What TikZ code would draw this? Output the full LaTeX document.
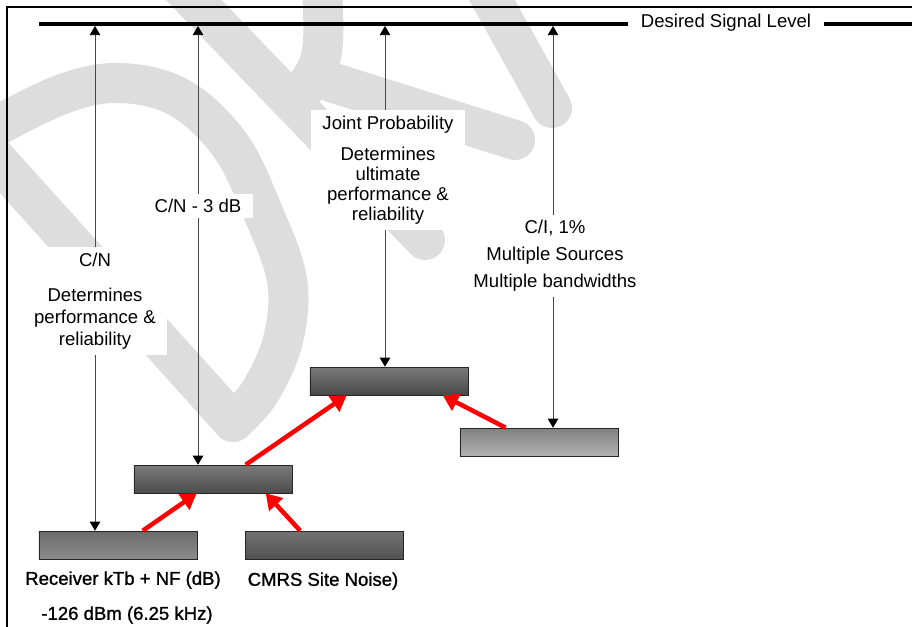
\documentclass[tikz,border=0pt]{standalone}
\usepackage{fontspec}
\setmainfont{Liberation Sans}
\newfontfamily\heavyfont[FakeBold=1.2]{Liberation Sans}
\usetikzlibrary{arrows.meta,calc}
\definecolor{watermark}{RGB}{221,221,221}
\definecolor{stemgray}{RGB}{70,70,70}

\tikzset{
  bar/.style={draw=black!85, thin, minimum width=3.95cm, minimum height=0.7cm, inner sep=0pt},
  levelarrow/.style={draw=stemgray, line width=0.6pt,
    {Triangle[width=7.5pt,length=6.5pt,color=black]}-{Triangle[width=7.5pt,length=6.5pt,color=black]}},
  feed/.style={draw=red, line width=3.2pt, -{Triangle[width=13pt,length=11pt]}},
  lbl/.style={fill=white, align=center, inner xsep=8pt, inner ysep=4pt, font=\fontsize{13.2}{15.6}\selectfont},
  caption/.style={inner sep=0pt, font=\heavyfont\fontsize{13.2}{15.6}\selectfont},
}

\begin{document}
\begin{tikzpicture}[x=0.025cm, y=-0.025cm]
    \useasboundingbox (0,0) rectangle (912,626);
    \clip (0,0) rectangle (912,626);

    % watermark behind everything
    \begin{scope}[draw=watermark, line width=1cm, line cap=round, line join=round]
        \draw (233,422) -- (-30,130);
        \draw plot[smooth, tension=0.6] coordinates {(-20,135) (60,95) (120,83) (180,98) (230,145) (262,210) (287,280) (283,340) (260,392) (233,422)};
        \draw (160,-35) -- (425,240);
        \draw (318,78) -- (515,140);
        \draw (478,-25) -- (552,108);
        \draw (300,95) .. controls (325,60) .. (322,-20);
    \end{scope}

    % frame and signal level
    \draw[line width=1.5pt] (7,660) -- (7,7) -- (940,7);
    \draw[line width=2.2pt] (39,24) -- (940,24);
    \node[lbl, inner xsep=9pt, inner ysep=2pt] (level) at (726,23) {Desired Signal Level};

    \coordinate (t1) at (95,26);
    \coordinate (t2) at (198,26);
    \coordinate (t3) at (385,26);
    \coordinate (t4) at (553,26);

    % noise bars
    \node[bar, top color=black!58, bottom color=black!45] (rx) at (118,545) {};
    \node[bar, top color=black!55, bottom color=black!68] (site) at (324.5,545) {};
    \node[bar, top color=black!52, bottom color=black!70] (combo) at (213,479) {};
    \node[bar, top color=black!52, bottom color=black!72] (joint) at (389,381) {};
    \node[bar, top color=black!50, bottom color=black!30] (interf) at (539,442) {};

    \draw[levelarrow] (rx.north -| t1) -- (t1);
    \draw[levelarrow] (combo.north -| t2) -- (t2);
    \draw[levelarrow] (joint.north -| t3) -- (t3);
    \draw[levelarrow] (interf.north -| t4) -- (t4);

    \node[lbl] (cn) at (95,301) {C/N\\[9pt]Determines\\performance \&\\reliability};
    \node[lbl] (cn3) at (198,206) {C/N - 3 dB};
    \node[lbl, font=\fontsize{13.2}{14.2}\selectfont] (jp) at (388,170) {Joint Probability\\[8pt]Determines\\ultimate\\performance \&\\reliability};
    \node[lbl] (ci) at (555,256) {C/I, 1\%\\[3.6pt]Multiple Sources\\[3.6pt]Multiple bandwidths};

    \node[caption] (rxcap) at (123,580) {Receiver kTb + NF (dB)};
    \node[caption] (rxlvl) at (127,615) {-126 dBm (6.25 kHz)};
    \node[caption] (sitecap) at (323,581) {CMRS Site Noise)};

    % red contributions
    \draw[feed] ($(rx.north west)+(104,0)$) -- ($(combo.south west)+(63,0)$);
    \draw[feed] ($(site.north west)+(55,0)$) -- ($(combo.south west)+(132,0)$);
    \draw[feed] ($(combo.north west)+(112,0)$) -- ($(joint.south west)+(37,0)$);
    \draw[feed] ($(interf.north west)+(46,0)$) -- ($(joint.south west)+(133,0)$);
\end{tikzpicture}
\end{document}
